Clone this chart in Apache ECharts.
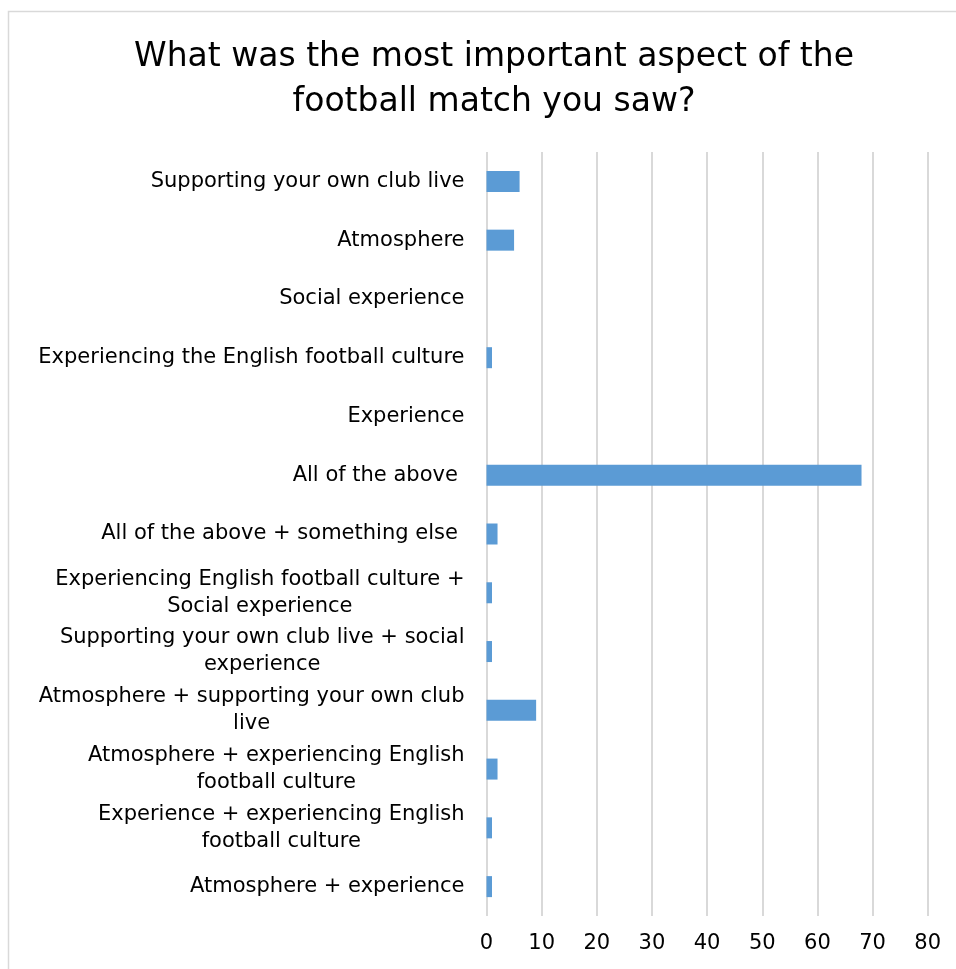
<!DOCTYPE html>
<html>
<head>
<meta charset="utf-8">
<title>Most important aspect of the football match</title>
<script src="https://cdn.jsdelivr.net/npm/echarts@6/dist/echarts.min.js"></script>
<style>
  html, body { margin: 0; padding: 0; background: #fff; }
  #chart { width: 956px; height: 969px; }
</style>
</head>
<body>
<div id="chart"></div>
<script>
// Survey answers, top to bottom
const categories = [
  'Supporting your own club live',
  'Atmosphere',
  'Social experience',
  'Experiencing the English football culture',
  'Experience',
  'All of the above ',
  'All of the above + something else ',
  'Experiencing English football culture +\nSocial experience',
  'Supporting your own club live + social\nexperience',
  'Atmosphere + supporting your own club\nlive',
  'Atmosphere + experiencing English\nfootball culture',
  'Experience + experiencing English\nfootball culture',
  'Atmosphere + experience'
];

// Number of respondents per answer
const responses = [6, 5, 0, 1, 0, 68, 2, 1, 1, 9, 2, 1, 1];

// Value axis ticks
const axisMin = 0;
const axisMax = 80;
const axisStep = 10;

const FONT = 'DejaVu Sans';

const chart = echarts.init(document.getElementById('chart'), null, { renderer: 'canvas' });

chart.setOption({
  backgroundColor: '#ffffff',
  animation: false,
  title: {
    text: 'What was the most important aspect of the\nfootball match you saw?',
    left: 489,
    top: 30,
    textAlign: 'center',
    textStyle: {
      fontFamily: FONT,
      fontSize: 33,
      fontWeight: 'normal',
      color: '#000000',
      lineHeight: 45
    }
  },
  graphic: [{
    type: 'rect',
    silent: true,
    shape: { x: 8.5, y: 11.5, width: 1000, height: 1000 },
    style: { fill: 'none', stroke: '#d9d9d9', lineWidth: 1.5 },
    z: -1
  }],
  grid: {
    left: 486.5,
    right: 28.3,
    top: 152,
    bottom: 53,
    containLabel: false
  },
  xAxis: {
    type: 'value',
    min: axisMin,
    max: axisMax,
    interval: axisStep,
    axisLine: { show: false },
    axisTick: { show: false },
    splitLine: { show: true, lineStyle: { color: '#d9d9d9', width: 2 } },
    axisLabel: {
      margin: 17,
      fontFamily: FONT,
      fontSize: 21,
      color: '#000000'
    }
  },
  yAxis: {
    type: 'category',
    data: categories,
    inverse: true,
    axisLine: { show: false },
    axisTick: { show: false },
    splitLine: { show: false },
    axisLabel: {
      margin: 22,
      interval: 0,
      fontFamily: FONT,
      fontSize: 21,
      color: '#000000',
      lineHeight: 27,
      formatter: function (v) {
        return v.split('\n').map(function (line) { return '{c|' + line + '}'; }).join('\n');
      },
      rich: {
        c: {
          align: 'center',
          fontFamily: FONT,
          fontSize: 21,
          color: '#000000',
          lineHeight: 27
        }
      }
    }
  },
  series: [{
    type: 'bar',
    data: responses,
    barWidth: 21,
    itemStyle: { color: '#5b9bd5' }
  }]
});
</script>
</body>
</html>
